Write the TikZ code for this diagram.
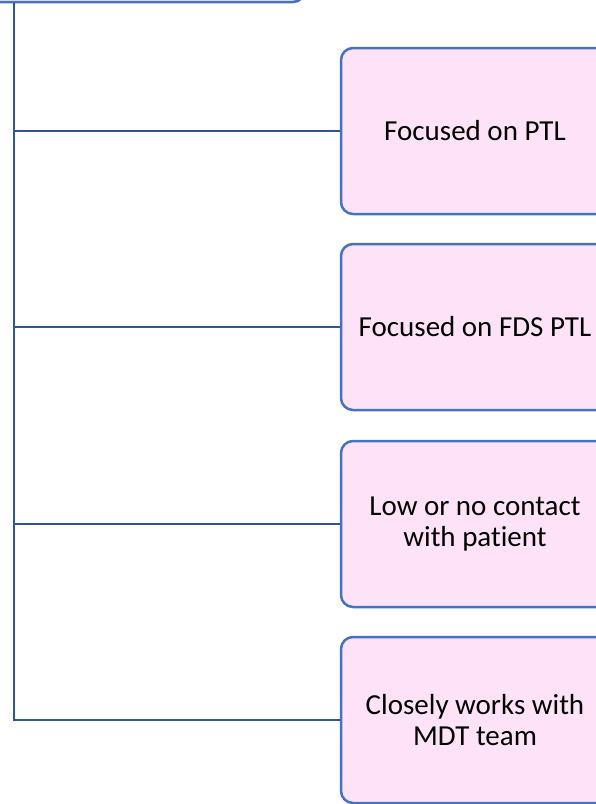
\documentclass[tikz,border=0pt]{standalone}
\usepackage{fontspec}
\setmainfont{Carlito}[Ligatures={NoCommon}]
\definecolor{boxfill}{RGB}{253,226,248}
\definecolor{boxline}{RGB}{68,114,196}
\definecolor{linkline}{RGB}{47,85,151}
\begin{document}
\begin{tikzpicture}[x=1pt,y=-1pt,
  itembox/.style={draw=boxline, line width=2.5pt, fill=boxfill, rounded corners=12pt,
    minimum width=268pt, minimum height=166pt, align=center, inner sep=0pt,
    font=\fontsize{29pt}{31pt}\selectfont, text=black},
  link/.style={draw=linkline, line width=2.8pt}]
\useasboundingbox (0,0) rectangle (596,804);
\clip (0,0) rectangle (596,804);
\node[itembox, minimum width=410pt, minimum height=124pt] (top) at (100,-60) {};
\node[itembox] (b1) at (475,131) {Focused on PTL};
\node[itembox] (b2) at (475,327) {Focused on FDS PTL};
\node[itembox] (b3) at (475,524) {Low or no contact\\with patient};
\node[itembox] (b4) at (475,720) {Closely works with\\MDT team};
\coordinate (t0) at (14,3);
\coordinate (j1) at (14,131);
\coordinate (j2) at (14,327);
\coordinate (j3) at (14,524);
\coordinate (j4) at (14,720);
\draw[link] (t0) -- (j4) -- (b4.west);
\draw[link] (j1) -- (b1.west);
\draw[link] (j2) -- (b2.west);
\draw[link] (j3) -- (b3.west);
\end{tikzpicture}
\end{document}
